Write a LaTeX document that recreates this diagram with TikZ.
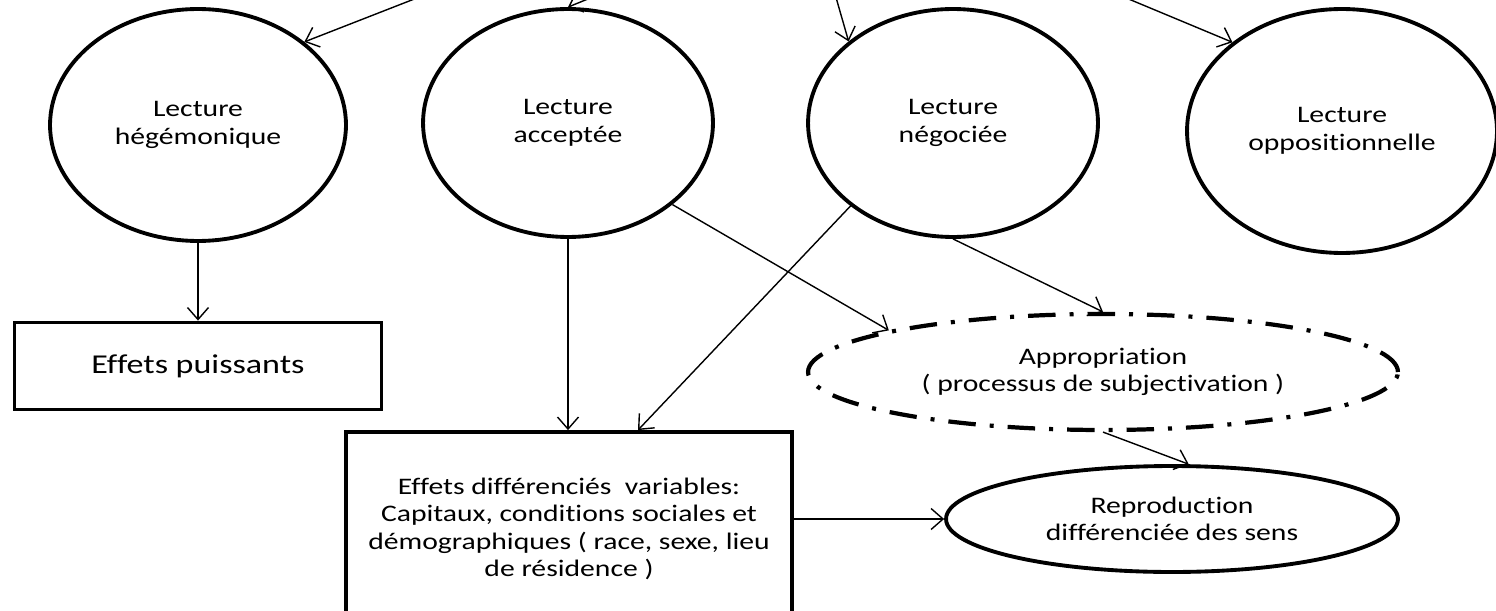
\documentclass[tikz,border=0pt]{standalone}
\usepackage{fontspec}
\setmainfont{Carlito}[FakeStretch=1.25, Ligatures=NoCommon]
\usetikzlibrary{positioning,shapes.geometric,arrows.meta}

\begin{document}
\begin{tikzpicture}[
    x=0.02cm, y=-0.02cm,
    every node/.style={font=\fontsize{13.5}{15.6}\selectfont, align=center},
    lect/.style={ellipse, draw=black, line width=2.2pt, minimum width=5.8cm, minimum height=4.56cm, inner sep=0pt},
    box/.style={rectangle, draw=black, line width=2.2pt, inner sep=0pt},
    dashell/.style={ellipse, draw=black, line width=2.4pt, inner sep=0pt, dash pattern=on 0.55cm off 0.28cm on 0.08cm off 0.28cm},
    arr/.style={-{Straight Barb[length=0.24cm, width=0.42cm]}, line width=0.8pt}
]
\useasboundingbox (0,0) rectangle (1496,611);
\clip (0,0) rectangle (1496,611);

% the four readings
\node[lect, minimum width=5.92cm, minimum height=4.64cm] (hege) at (198,125) {Lecture\\hégémonique};
\node[lect] (acc) at (568,123) {Lecture\\acceptée};
\node[lect] (neg) at (953,123) {Lecture\\négociée};
\node[lect, minimum width=6.2cm, minimum height=4.88cm] (opp) at (1342,131) {Lecture\\oppositionnelle};

% effects
\node[box, minimum width=7.34cm, minimum height=1.74cm, font=\fontsize{15.5}{18}\selectfont] (puis) at (198,366) {Effets puissants};
\node[dashell, minimum width=11.8cm, minimum height=2.32cm] (appr) at (1103,372) {Appropriation\\( processus de subjectivation )};
\node[box, minimum width=8.92cm, minimum height=3.88cm] (diff) at (569,529)
    {Effets différenciés~ variables:\\Capitaux, conditions sociales et\\démographiques ( race, sexe, lieu\\de résidence )};
\node[lect, minimum width=9.04cm, minimum height=2.12cm] (repro) at (1172,519) {Reproduction\\différenciée des sens};

% arrows coming in from above
\coordinate (in1) at (463,-20);
\coordinate (in2) at (610,-10);
\coordinate (in3) at (831,-20);
\coordinate (in4) at (1083,-20);
\draw[arr] (in1) -- (hege.38);
\draw[arr] (in2) -- (acc.north);
\draw[arr] (in3) -- (neg.142);
\draw[arr] (in4) -- (opp.141);

\draw[arr] (hege.south) -- (puis.north);
\draw[arr] (acc.south) -- (acc.south |- diff.north);
\draw[arr] (acc.-38) -- (appr.169);
\draw[arr] (neg.219) -- ([xshift=1.38cm]diff.north);
\draw[arr] (neg.south) -- (appr.north);
\draw[arr] (appr.south) -- (repro.73);
\draw[arr] (diff.east |- repro.west) -- (repro.west);
\end{tikzpicture}
\end{document}
